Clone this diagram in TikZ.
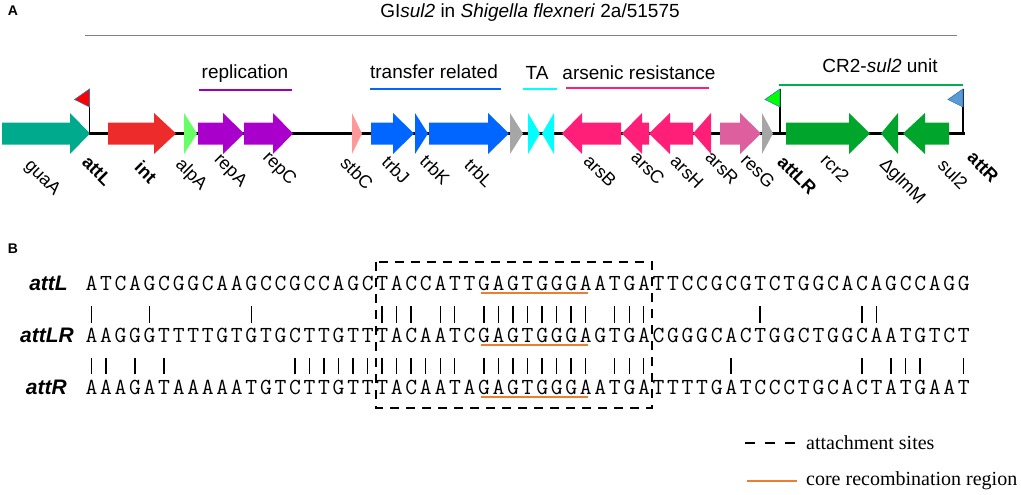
\documentclass[tikz,border=0pt]{standalone}
\usepackage{fontspec}
\setmainfont{Liberation Sans}
\newfontfamily\legendfont{Liberation Serif}

\definecolor{guacol}{HTML}{00AA8D}
\definecolor{intcol}{HTML}{EE2B2B}
\definecolor{alpcol}{HTML}{66FF66}
\definecolor{repcol}{HTML}{AA00CC}
\definecolor{stbcol}{HTML}{FF9999}
\definecolor{trbcol}{HTML}{0066FF}
\definecolor{hypcol}{HTML}{A6A6A6}
\definecolor{tacol}{HTML}{00FFFF}
\definecolor{arscol}{HTML}{FF1E78}
\definecolor{rescol}{HTML}{DD5F9E}
\definecolor{crcol}{HTML}{00A62B}
\definecolor{unitcol}{HTML}{00B050}
\definecolor{flagedge}{HTML}{2E75B6}
\definecolor{flagblue}{HTML}{5B9BD5}
\definecolor{corecol}{HTML}{ED7D31}

% tail x, head base x, tip x, colour
\newcommand\gene[4]{\fill[#4] (#1,122.5) -- (#2,122.5) -- (#2,113) -- (#3,133.5)
  -- (#2,154) -- (#2,144.5) -- (#1,144.5) -- cycle;}
% pole x, colour
\newcommand\attflag[2]{\draw[line width=1.8pt] (#1,133.5) -- (#1,89);
  \filldraw[fill=#2, draw=flagedge, line width=0.6pt] (#1,89) -- (#1,107) -- (#1-15,99.5) -- cycle;}

\newcommand\spaced[1]{\spacedaux#1\relax}
\def\spacedaux#1{\ifx\relax#1\else\makebox[14.54pt]{#1}\expandafter\spacedaux\fi}

\tikzset{
  gene label/.style={rotate=-45, inner sep=0pt, font=\fontsize{18}{18}\selectfont},
  group label/.style={anchor=base, inner sep=0pt, font=\fontsize{19}{19}\selectfont},
  panel/.style={inner sep=0pt, font=\bfseries\fontsize{14}{14}\selectfont},
  seq/.style={anchor=base west, inner sep=0pt, font=\ttfamily\fontsize{23}{23}\selectfont},
  site/.style={anchor=base east, inner sep=0pt, font=\bfseries\itshape\fontsize{21}{21}\selectfont},
  legend/.style={anchor=west, inner sep=0pt, font=\legendfont\fontsize{20}{20}\selectfont},
  match/.style={line width=1.4pt},
  core/.style={draw=corecol, line width=2.5pt},
  attbox/.style={line width=2.2pt, dash pattern=on 9pt off 7pt},
}

\begin{document}
\begin{tikzpicture}[x=1pt, y=-1pt]
  \useasboundingbox (0,0) rectangle (1021,495);

  \node[panel] (pA) at (13,11) {A};
  \node[group label] (title) at (530,17.5) {GI\textit{sul2} in \textit{Shigella flexneri} 2a/51575};
  \draw[gray, line width=1pt] (85,36) -- (957,36);

  \node[group label] (grep) at (245,79) {replication};
  \node[group label] (gtrb) at (434,79) {transfer related};
  \node[group label] (gta) at (537,80) {TA};
  \node[group label] (gars) at (639,80) {arsenic resistance};
  \node[group label] (gunit) at (880,73) {CR2-\textit{sul2} unit};
  \draw[repcol!90!black, line width=1.5pt] (199,90) -- (292,90);
  \draw[trbcol, line width=1.5pt] (370,89) -- (501,89);
  \draw[tacol, line width=1.5pt] (523,89) -- (557,89);
  \draw[arscol, line width=1.5pt] (566,88) -- (709,88);
  \draw[unitcol, line width=1.5pt] (779,85) -- (963,85);

  \draw[line width=3pt] (88,133.5) -- (965,133.5);
  \gene{2}{70}{90}{guacol}
  \gene{108}{154}{176}{intcol}
  \gene{184}{184}{197}{alpcol}
  \gene{198}{223}{244}{repcol}
  \gene{244}{273}{293}{repcol}
  \gene{352}{352}{362}{stbcol}
  \gene{371}{393}{414}{trbcol}
  \gene{415}{415}{428}{trbcol}
  \gene{429}{488}{509}{trbcol}
  \gene{510}{510}{523}{hypcol}
  \gene{528}{528}{540}{tacol}
  \gene{554}{554}{542}{tacol}
  \gene{621}{582}{562}{arscol}
  \gene{649}{642}{622}{arscol}
  \gene{693}{670}{649}{arscol}
  \gene{711}{711}{693}{arscol}
  \gene{720}{740}{761}{rescol}
  \gene{762}{762}{773}{hypcol}
  \gene{786}{849}{870}{crcol}
  \gene{898}{898}{881}{crcol}
  \gene{949}{925}{903}{crcol}
  \attflag{89.5}{red}
  \attflag{780}{green}
  \attflag{963}{flagblue}

  \node[gene label] (guaA) at (42,178) {guaA};
  \node[gene label, font=\bfseries\fontsize{18}{18}\selectfont] (attL) at (97,171) {attL};
  \node[gene label, font=\bfseries\fontsize{18}{18}\selectfont] (int) at (146,172) {int};
  \node[gene label] (alpA) at (191,175) {alpA};
  \node[gene label] (repA) at (230,171) {repA};
  \node[gene label] (repC) at (279,169) {repC};
  \node[gene label] (stbC) at (357,173) {stbC};
  \node[gene label] (trbJ) at (396,170) {trbJ};
  \node[gene label] (trbK) at (435,170) {trbK};
  \node[gene label] (trbL) at (479,173) {trbL};
  \node[gene label] (arsB) at (600,171) {arsB};
  \node[gene label] (arsC) at (648,168) {arsC};
  \node[gene label] (arsH) at (687,172) {arsH};
  \node[gene label] (arsR) at (722,168) {arsR};
  \node[gene label] (resG) at (758,171) {resG};
  \node[gene label, font=\bfseries\fontsize{18}{18}\selectfont] (attLR) at (797,175) {attLR};
  \node[gene label] (rcr2) at (835,168) {rcr2};
  \node[gene label] (glmM) at (902,182) {ΔglmM};
  \node[gene label] (sul2) at (953,174) {sul2};
  \node[gene label, font=\bfseries\fontsize{18}{18}\selectfont] (attR) at (983,167) {attR};

  \node[panel] (pB) at (13,249) {B};
  \node[site] (nL) at (68,290) {attL};
  \node[site] (nLR) at (74,342) {attLR};
  \node[site] (nR) at (67,394) {attR};
  \node[seq] (sL) at (84,290) {\spaced{ATCAGCGGCAAGCCGCCAGCTACCATTGAGTGGGAATGATTCCGCGTCTGGCACAGCCAGG}};
  \node[seq] (sLR) at (84,342) {\spaced{AAGGGTTTTGTGTGCTTGTTTACAATCGAGTGGGAGTGACGGGCACTGGCTGGCAATGTCT}};
  \node[seq] (sR) at (84,394) {\spaced{AAAGATAAAAATGTCTTGTTTACAATAGAGTGGGAATGATTTTGATCCCTGCACTATGAAT}};

  \foreach \i in {1,5,12,21,22,23,25,26,28,29,30,31,32,33,34,35,37,38,39,47,54,55}
    \draw[match] ({84+(\i-0.5)*14.54},306) -- ++(0,17);
  \foreach \i in {1,2,4,6,15,16,17,18,19,20,21,22,23,24,25,26,28,29,30,31,32,33,34,35,37,38,39,45,54,56,57,58,61}
    \draw[match] ({84+(\i-0.5)*14.54},358) -- ++(0,16);

  \foreach \y in {293,345,397}
    \draw[core] (481,\y) -- (588,\y);
  \draw[attbox] (376,262) rectangle (652,408);

  \coordinate (d1) at (745,443);
  \coordinate (d2) at (797,443);
  \draw[line width=2.6pt, dash pattern=on 10pt off 10pt] (d1) -- (d2);
  \node[legend] (lbox) at (806,443) {attachment sites};
  \coordinate (c1) at (747,481);
  \coordinate (c2) at (797,481);
  \draw[core] (c1) -- (c2);
  \node[legend] (lcore) at (806,481) {core recombination region};
\end{tikzpicture}
\end{document}
